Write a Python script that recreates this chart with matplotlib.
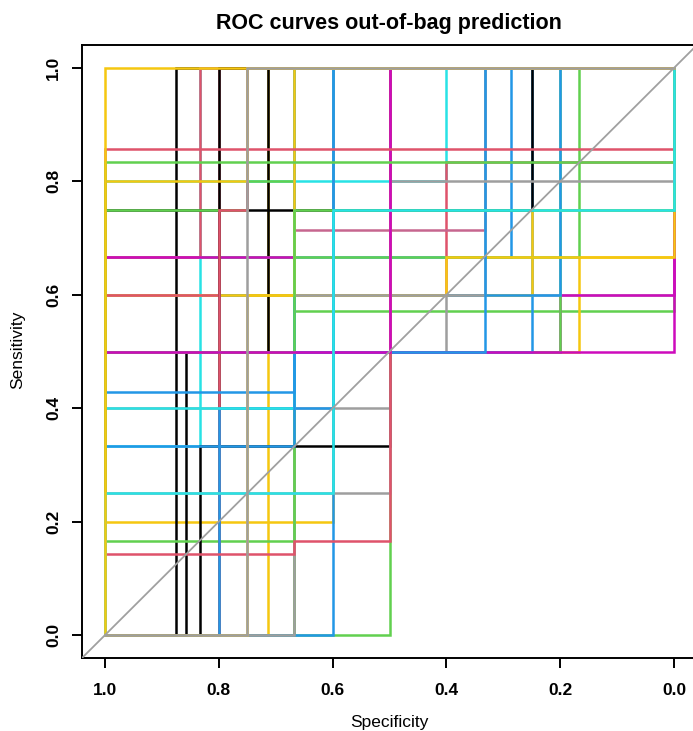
import matplotlib
matplotlib.use("Agg")
import matplotlib.pyplot as plt

plt.rcParams['font.family'] = ['Liberation Sans', 'DejaVu Sans']

# R 4.x default palette
black = "#000000"
red = "#DF536B"
green = "#61D04F"
blue = "#2297E6"
cyan = "#28E2E5"
magenta = "#CD0BBC"
yellow = "#F5C710"
gray = "#9E9E9E"
mauve = "#C6668F"

# ROC curves (specificity, sensitivity vertices), in drawing order
roc_spec = [
    [1, 1, 0.4, 0.4, 0, 0],
    [1, 1, 0.4, 0.4, 0, 0],
    [1, 0.667, 0.667, 0.333, 0.333, 0],
    [1, 1, 0.286, 0.286, 0],
    [1, 1, 0.6, 0.6, 0],
    [1, 0.667, 0.667, 0, 0],
    [1, 1, 0.167, 0.167, 0, 0],
    [1, 1, 0.5, 0.5, 0.4, 0.4, 0, 0],
    [1, 1, 0.2, 0.2, 0, 0],
    [1, 0.5, 0.5, 0.2, 0.2, 0],
    [1, 1, 0.25, 0.25, 0],
    [1, 1, 0.25, 0.25, 0, 0],
    [1, 1, 0.2, 0.2, 0],
    [1, 0.714, 0.714, 0],
    [1, 0.875, 0.875, 0],
    [1, 0.857, 0.857, 0.714, 0.714, 0],
    [1, 0.6, 0.6, 0],
    [1, 1, 0.167, 0.167, 0],
    [1, 1, 0.833, 0.833, 0],
    [1, 1, 0.833, 0.833, 0],
    [1, 1, 0.667, 0.667, 0],
    [1, 1, 0, 0],
    [1, 1, 0.4, 0.4, 0, 0],
    [1, 0.667, 0.667, 0.333, 0.333, 0],
    [1, 1, 0.667, 0.667, 0],
    [1, 0.833, 0.833, 0.5, 0.5, 0],
    [1, 1, 0.8, 0.8, 0],
    [1, 0.8, 0.8, 0],
    [1, 1, 0.25, 0.25, 0],
    [1, 1, 0.75, 0.75, 0.667, 0.667, 0],
    [1, 0.8, 0.8, 0.75, 0.75, 0],
    [1, 0.8, 0.8, 0.6, 0.6, 0],
    [1, 1, 0.667, 0.667, 0],
    [1, 1, 0.667, 0.667, 0],
    [1, 1, 0.667, 0.667, 0.333, 0.333, 0],
    [1, 0.75, 0.75, 0.667, 0.667, 0],
    [1, 1, 0.667, 0.667, 0, 0],
    [1, 1, 0.5, 0.5, 0, 0],
    [1, 1, 0.667, 0.667, 0.5, 0.5, 0],
    [1, 1, 0.5, 0.5, 0],
    [1, 1, 0.75, 0.75, 0],
    [1, 1, 0, 0],
    [1, 1, 0, 0],
    [1, 1, 0.6, 0.6, 0, 0],
    [1, 1, 0],
    [1, 0.75, 0.75, 0],
]
roc_sens = [
    [0, 0.8, 0.8, 1, 1, 1],
    [0, 0.6, 0.6, 0.833, 0.833, 1],
    [0, 0, 0.714, 0.714, 1, 1],
    [0, 0.667, 0.667, 1, 1],
    [0, 0.2, 0.2, 1, 1],
    [0, 0, 0.571, 0.571, 1],
    [0, 0.5, 0.5, 0.667, 0.667, 1],
    [0, 0.4, 0.4, 0.5, 0.5, 0.6, 0.6, 1],
    [0, 0.5, 0.5, 0.6, 0.6, 1],
    [0, 0, 0.5, 0.5, 1, 1],
    [0, 0.5, 0.5, 1, 1],
    [0, 0.6, 0.6, 0.75, 0.75, 1],
    [0, 0.6, 0.6, 1, 1],
    [0, 0, 1, 1],
    [0, 0, 1, 1],
    [0, 0, 0.5, 0.5, 1, 1],
    [0, 0, 1, 1],
    [0, 0.667, 0.667, 1, 1],
    [0, 0.333, 0.333, 1, 1],
    [0, 0.667, 0.667, 1, 1],
    [0, 0.667, 0.667, 1, 1],
    [0, 0.5, 0.5, 1],
    [0, 0.6, 0.6, 0.667, 0.667, 1],
    [0, 0, 0.6, 0.6, 1, 1],
    [0, 0.167, 0.167, 1, 1],
    [0, 0, 0.333, 0.333, 1, 1],
    [0, 0.6, 0.6, 1, 1],
    [0, 0, 1, 1],
    [0, 0.75, 0.75, 1, 1],
    [0, 0.75, 0.75, 0.8, 0.8, 1, 1],
    [0, 0, 0.75, 0.75, 1, 1],
    [0, 0, 0.4, 0.4, 1, 1],
    [0, 0.4, 0.4, 1, 1],
    [0, 0.429, 0.429, 1, 1],
    [0, 0.333, 0.333, 0.5, 0.5, 1, 1],
    [0, 0, 0.6, 0.6, 1, 1],
    [0, 0.5, 0.5, 0.75, 0.75, 1],
    [0, 0.25, 0.25, 0.8, 0.8, 1],
    [0, 0.143, 0.143, 0.167, 0.167, 1, 1],
    [0, 0.5, 0.5, 1, 1],
    [0, 0.8, 0.8, 1, 1],
    [0, 0.857, 0.857, 1],
    [0, 0.833, 0.833, 1],
    [0, 0.25, 0.25, 0.75, 0.75, 1],
    [0, 1, 1],
    [0, 0, 1, 1],
]
roc_col = [
    cyan, red, mauve, blue, yellow, green, yellow, gray, magenta, green,
    blue, yellow, blue, yellow, black, black, blue, green, cyan, red,
    magenta, magenta, yellow, gray, green, black, red, black, black, green,
    red, blue, cyan, blue, blue, yellow, green, gray, red, magenta,
    yellow, red, green, cyan, yellow, gray,
]

x_ticks = [1.0, 0.8, 0.6, 0.4, 0.2, 0.0]
y_ticks = [0.0, 0.2, 0.4, 0.6, 0.8, 1.0]

fig = plt.figure(figsize=(6.93, 7.31), dpi=100)
ax = fig.add_axes([82 / 693, 73 / 731, 615 / 693, 613 / 731])

for sp, se, c in zip(roc_spec, roc_sens, roc_col):
    ax.plot(sp, se, color=c, lw=1.8, solid_joinstyle='miter')

# identity line
ax.plot([1.04, -0.04], [-0.04, 1.04], color="#A0A0A0", lw=1.3, zorder=5)

ax.set_xlim(1.04, -0.04)
ax.set_ylim(-0.04, 1.04)
ax.set_xticks(x_ticks)
ax.set_xticklabels([f"{t:.1f}" for t in x_ticks], fontweight='bold', fontsize=12.5)
ax.set_yticks(y_ticks)
ax.set_yticklabels([f"{t:.1f}" for t in y_ticks], fontweight='bold', fontsize=12.5,
                   rotation=90, va='center')
ax.tick_params(direction='out', length=7.2, width=1.4, color='black')
ax.tick_params(axis='x', pad=11)
ax.tick_params(axis='y', pad=8)
for s in ax.spines.values():
    s.set_linewidth(1.4)

fig.text(389 / 693, 1 - 23 / 731, "ROC curves out-of-bag prediction",
         ha='center', va='center', fontsize=15.5, fontweight='bold')
fig.text(389 / 693, 1 - 722 / 731, "Specificity", ha='center', va='center', fontsize=12.5)
fig.text(18 / 693, 1 - 350 / 731, "Sensitivity", ha='center', va='center',
         fontsize=12.5, rotation=90)

fig.savefig("out.png", dpi=100)
